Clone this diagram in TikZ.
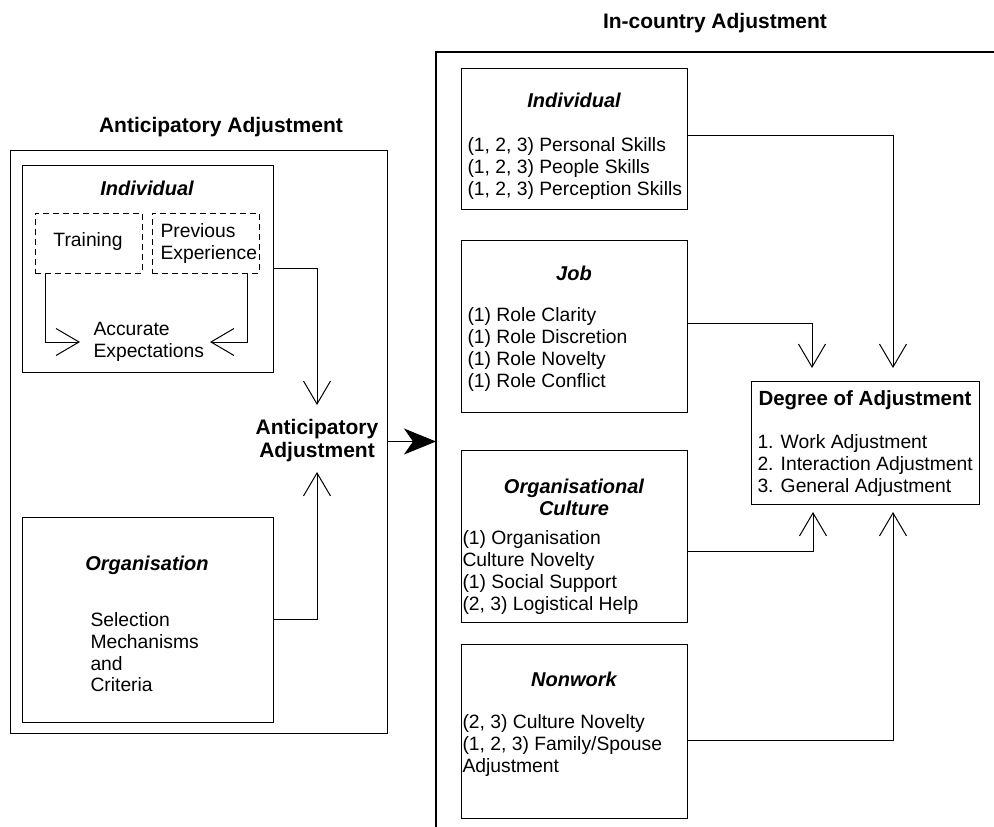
\documentclass[tikz,border=0pt]{standalone}
\usepackage{fontspec}
\setmainfont{Liberation Sans}
\usetikzlibrary{arrows.meta}
\begin{document}
\begin{tikzpicture}[x=1pt,y=-1pt, line width=1pt,
  box/.style={draw, rectangle, inner sep=0pt},
  dbox/.style={draw, rectangle, inner sep=0pt, dash pattern=on 6pt off 4pt},
  txt/.style={inner sep=0pt, align=left, font=\fontsize{19.3}{22}\selectfont},
  head/.style={inner sep=0pt, align=center, font=\fontsize{20}{22}\selectfont\bfseries\itshape},
  ttl/.style={inner sep=0pt, align=center, font=\fontsize{21}{23}\selectfont\bfseries},
  barb/.style={-{Straight Barb[length=23pt,width=27pt]}},
  bigarrow/.style={-{Stealth[length=32pt,width=26pt,inset=9pt]}}
]
\useasboundingbox (0,0) rectangle (994,827);

% ---------- left part ----------
\node[ttl] (tl) at (221,127) {Anticipatory Adjustment};
\node[box, minimum width=377pt, minimum height=583pt] (LO) at (198.5,441.5) {};
\node[box, minimum width=251pt, minimum height=207pt] (IL) at (147.5,268.5) {};
\node[head] (ilh) at (147,188) {Individual};
\node[dbox, minimum width=107pt, minimum height=60pt] (TR) at (88.5,243) {};
\node[dbox, minimum width=107pt, minimum height=60pt] (PE) at (205.5,243) {};
\node[txt] (trt) at (88,242) {Training};
\node[txt, anchor=west] (pet) at (160,244) {Previous\\Experience};
\node[txt, anchor=west] (ae) at (93,342) {Accurate\\Expectations};
\coordinate (tA) at (80,342);
\coordinate (tB) at (210,342);
\draw[barb] ([xshift=11pt]TR.south west) |- (tA);
\draw[barb] ([xshift=-12pt]PE.south east) |- (tB);

\node[box, minimum width=251pt, minimum height=205pt] (OR) at (147.5,619.5) {};
\node[head] (orh) at (147,565) {Organisation};
\node[txt, anchor=west, font=\fontsize{19.3}{21.7}\selectfont] (ort) at (90,652.5) {Selection\\Mechanisms\\and\\Criteria};

\node[ttl] (aa) at (317,440.5) {Anticipatory\\Adjustment};
\coordinate (aTop) at (317,405);
\coordinate (aBot) at (317,472);
\draw[barb] (IL.east) -| (aTop);
\draw[barb] (OR.east) -| (aBot);

% ---------- right part ----------
\node[ttl] (tr) at (715,23) {In-country Adjustment};
\coordinate (RBtop) at (994,52);
\coordinate (RBcorner) at (436,52);
\coordinate (RBbot) at (436,827);
\draw[line width=1.3pt] (RBbot) -- (RBcorner) -- (RBtop);
\coordinate (rin) at (436,441.5);
\draw[bigarrow] (LO.east) -- (rin);

\node[box, minimum width=226pt, minimum height=141pt] (IR) at (574,138.5) {};
\node[head] (irh) at (574,100) {Individual};
\node[txt, anchor=west] (irt) at (467,169) {(1, 2, 3) Personal Skills\\(1, 2, 3) People Skills\\(1, 2, 3) Perception Skills};

\node[box, minimum width=226pt, minimum height=172pt] (JB) at (574,326) {};
\node[head] (jbh) at (574,273) {Job};
\node[txt, anchor=west] (jbt) at (467,350) {(1) Role Clarity\\(1) Role Discretion\\(1) Role Novelty\\(1) Role Conflict};

\node[box, minimum width=226pt, minimum height=172pt] (OC) at (574,536) {};
\node[head] (och) at (574,497) {Organisational\\Culture};
\node[txt, anchor=west] (oct) at (462,572.5) {(1) Organisation\\Culture Novelty\\(1) Social Support\\(2, 3) Logistical Help};

\node[box, minimum width=226pt, minimum height=174pt] (NW) at (574,731) {};
\node[head] (nwh) at (574,679) {Nonwork};
\node[txt, anchor=west] (nwt) at (462,746) {(2, 3) Culture Novelty\\(1, 2, 3) Family/Spouse\\Adjustment};

\node[box, minimum width=228pt, minimum height=123pt] (DG) at (865,442.5) {};
\node[inner sep=0pt, font=\fontsize{20.5}{23}\selectfont\bfseries] (dgh) at (865,400) {Degree of Adjustment};
\node[txt, anchor=west] (dgt) at (757,466) {1. Work Adjustment\\2. Interaction Adjustment\\3. General Adjustment};

\coordinate (d1) at (812,368);
\coordinate (d2) at (893,368);
\coordinate (d3) at (813,512);
\coordinate (d4) at (893,512);
\draw[barb] ([yshift=3.5pt]IR.east) -| (d2);
\draw[barb] ([yshift=3pt]JB.east) -| (d1);
\draw[barb] ([yshift=-15pt]OC.east) -| (d3);
\draw[barb] ([yshift=-9pt]NW.east) -| (d4);
\end{tikzpicture}
\end{document}
